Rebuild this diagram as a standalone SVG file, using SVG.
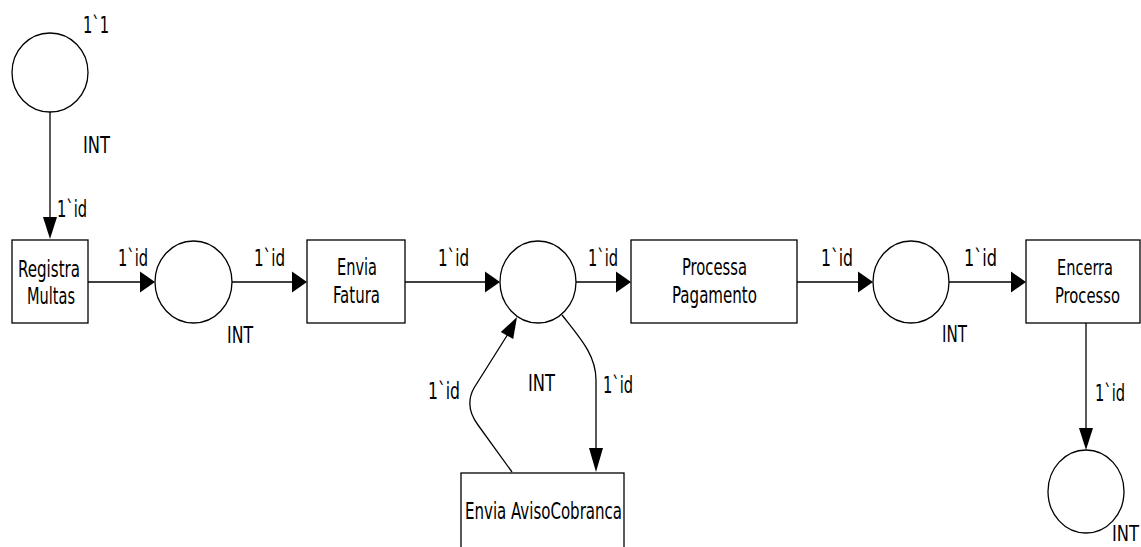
<svg xmlns="http://www.w3.org/2000/svg" width="1141" height="547" viewBox="0 0 1141 547">
<style>
.pl{fill:#fff;stroke:#000;stroke-width:1.3}
.tr{fill:#fff;stroke:#000;stroke-width:1.3}
.ln{fill:none;stroke:#000;stroke-width:1.3}
.ah{fill:#000;stroke:none}
text{font-family:"DejaVu Sans","Liberation Sans",sans-serif;font-stretch:condensed;font-size:23.5px;fill:#000}
.edge{font-size:21px}
</style>
<rect width="1141" height="547" fill="#fff"/>
<g id="connectors">
<line class="ln" x1="50" y1="112" x2="50" y2="222"/>
<polygon class="ah" points="43,217 57,217 50,239"/>
<line class="ln" x1="88" y1="282" x2="142" y2="282"/>
<polygon class="ah" points="140,271.5 140,292.5 155,282"/>
<line class="ln" x1="232" y1="282" x2="294" y2="282"/>
<polygon class="ah" points="292,271.5 292,292.5 307,282"/>
<line class="ln" x1="405" y1="282" x2="487" y2="282"/>
<polygon class="ah" points="485,271.5 485,292.5 500,282"/>
<line class="ln" x1="576" y1="282" x2="618" y2="282"/>
<polygon class="ah" points="616,271.5 616,292.5 631,282"/>
<line class="ln" x1="797" y1="282" x2="860" y2="282"/>
<polygon class="ah" points="858,271.5 858,292.5 873,282"/>
<line class="ln" x1="949" y1="282" x2="1013" y2="282"/>
<polygon class="ah" points="1011,271.5 1011,292.5 1026,282"/>
<line class="ln" x1="1086" y1="323" x2="1086" y2="430"/>
<polygon class="ah" points="1079,428 1093,428 1086,450"/>
<path class="ln" d="M562,315 C580,338 596,355 596,380 L596,452"/>
<polygon class="ah" points="589,448 603,448 596,472"/>
<path class="ln" d="M512,472 L478,425 Q464,406 474,388 L508,334"/>
<polygon class="ah" points="513.2,338.9 500.8,332.1 517,317"/>
<text x="57" y="217" textLength="30" lengthAdjust="spacingAndGlyphs">1`id</text>
<text x="118" y="266" textLength="30" lengthAdjust="spacingAndGlyphs">1`id</text>
<text x="254" y="266" textLength="31" lengthAdjust="spacingAndGlyphs">1`id</text>
<text x="438" y="266" textLength="31" lengthAdjust="spacingAndGlyphs">1`id</text>
<text x="588" y="266" textLength="30" lengthAdjust="spacingAndGlyphs">1`id</text>
<text x="821" y="266" textLength="32" lengthAdjust="spacingAndGlyphs">1`id</text>
<text x="964" y="266" textLength="33" lengthAdjust="spacingAndGlyphs">1`id</text>
<text x="1095" y="401" textLength="30" lengthAdjust="spacingAndGlyphs">1`id</text>
<text x="428" y="399" textLength="32" lengthAdjust="spacingAndGlyphs">1`id</text>
<text x="603" y="393" textLength="30" lengthAdjust="spacingAndGlyphs">1`id</text>
</g>
<g id="p-start">
<ellipse class="pl" cx="50" cy="72.5" rx="38" ry="39.5"/>
<text x="83" y="33" textLength="26" lengthAdjust="spacingAndGlyphs">1`1</text>
<text x="83" y="153" textLength="27" lengthAdjust="spacingAndGlyphs">INT</text>
</g>
<g id="t-registra">
<rect class="tr" x="12" y="240" width="76" height="83"/>
<text x="18" y="277" textLength="62" lengthAdjust="spacingAndGlyphs">Registra</text>
<text x="27" y="304" textLength="48" lengthAdjust="spacingAndGlyphs">Multas</text>
</g>
<g id="p-2">
<ellipse class="pl" cx="193.5" cy="282" rx="38.5" ry="41"/>
<text x="227" y="343" textLength="26" lengthAdjust="spacingAndGlyphs">INT</text>
</g>
<g id="t-envia-fatura">
<rect class="tr" x="307" y="240" width="98" height="83"/>
<text x="337" y="275" textLength="40" lengthAdjust="spacingAndGlyphs">Envia</text>
<text x="333" y="303" textLength="47" lengthAdjust="spacingAndGlyphs">Fatura</text>
</g>
<g id="p-3">
<ellipse class="pl" cx="538" cy="282" rx="38" ry="41"/>
<text x="528" y="391" textLength="27" lengthAdjust="spacingAndGlyphs">INT</text>
</g>
<g id="t-processa">
<rect class="tr" x="631" y="240" width="166" height="83"/>
<text x="682" y="275" textLength="65" lengthAdjust="spacingAndGlyphs">Processa</text>
<text x="672" y="303" textLength="85" lengthAdjust="spacingAndGlyphs">Pagamento</text>
</g>
<g id="p-4">
<ellipse class="pl" cx="911" cy="282" rx="38" ry="41"/>
<text x="942" y="342" textLength="25" lengthAdjust="spacingAndGlyphs">INT</text>
</g>
<g id="t-encerra">
<rect class="tr" x="1026" y="240" width="114" height="83"/>
<text class="edge" x="1085" y="275" text-anchor="middle" textLength="56" lengthAdjust="spacingAndGlyphs">Encerra</text>
<text class="edge" x="1087.5" y="303" text-anchor="middle" textLength="65" lengthAdjust="spacingAndGlyphs">Processo</text>
</g>
<g id="p-end">
<ellipse class="pl" cx="1086" cy="491.5" rx="38" ry="41.5"/>
<text class="edge" x="1139" y="541" text-anchor="end" textLength="27" lengthAdjust="spacingAndGlyphs">INT</text>
</g>
<g id="t-aviso">
<rect class="tr" x="461" y="473" width="163" height="90"/>
<text x="465" y="519" textLength="157" lengthAdjust="spacingAndGlyphs">Envia AvisoCobranca</text>
</g>
</svg>
